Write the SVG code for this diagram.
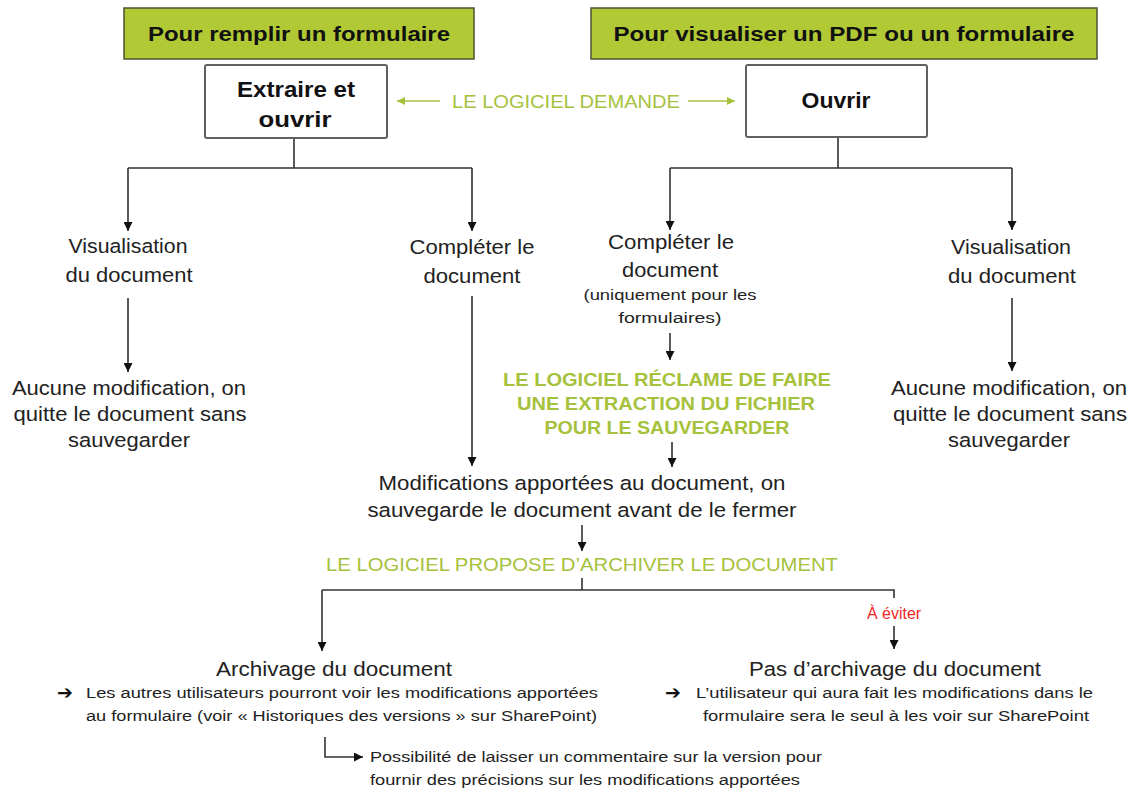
<svg xmlns="http://www.w3.org/2000/svg" width="1137" height="789" viewBox="0 0 1137 789">
<style>
.hdr{fill:#b2c936;stroke:#4f5030;stroke-width:1.5}
.box{fill:#fff;stroke:#606060;stroke-width:2}
.hb{font-family:"Liberation Sans",Arial,sans-serif;font-weight:bold;font-size:20px;fill:#111;text-anchor:middle}
.bb{font-family:"Liberation Sans",Arial,sans-serif;font-weight:bold;font-size:22px;fill:#111;text-anchor:middle}
.t{font-family:"Liberation Sans",Arial,sans-serif;font-size:20.5px;fill:#222;text-anchor:middle}
.s{font-family:"Liberation Sans",Arial,sans-serif;font-size:15.5px;fill:#222}
.ar{font-family:"DejaVu Sans",sans-serif;font-size:19px;font-weight:bold;fill:#111}
.sc{font-family:"Liberation Sans",Arial,sans-serif;font-size:14px;fill:#222;text-anchor:middle}
.g{font-family:"Liberation Sans",Arial,sans-serif;font-size:18px;fill:#a6c13c;text-anchor:middle}
.gb{font-family:"Liberation Sans",Arial,sans-serif;font-size:18px;font-weight:bold;fill:#a6c13c;text-anchor:middle}
.red{font-family:"Liberation Sans",Arial,sans-serif;font-size:16px;fill:#f02828;text-anchor:middle}
.ln{fill:none;stroke:#333;stroke-width:1.6}
.gl{fill:none;stroke:#a6c13c;stroke-width:1.6}
</style>
<defs>
<marker id="ah" viewBox="0 0 10 10" refX="10" refY="5" markerWidth="10" markerHeight="9" orient="auto" markerUnits="userSpaceOnUse"><path d="M0,0 L10,5 L0,10 z" fill="#111"/></marker>
<marker id="ga" viewBox="0 0 10 10" refX="10" refY="5" markerWidth="10" markerHeight="8" orient="auto" markerUnits="userSpaceOnUse"><path d="M0,0 L10,5 L0,10 z" fill="#a6c13c"/></marker>
</defs>
<rect width="1137" height="789" fill="#fff"/>

<g id="connectors">
<path class="gl" d="M440,101 H397" marker-end="url(#ga)"/>
<path class="gl" d="M688,101 H735" marker-end="url(#ga)"/>
<path class="ln" d="M294,138 V168 M128,168 H472"/>
<path class="ln" d="M128,168 V231" marker-end="url(#ah)"/>
<path class="ln" d="M472,168 V231" marker-end="url(#ah)"/>
<path class="ln" d="M838,137 V168 M670,168 H1012"/>
<path class="ln" d="M670,168 V230" marker-end="url(#ah)"/>
<path class="ln" d="M1012,168 V230" marker-end="url(#ah)"/>
<path class="ln" d="M128,298 V372" marker-end="url(#ah)"/>
<path class="ln" d="M1012,298 V371" marker-end="url(#ah)"/>
<path class="ln" d="M472,296 V466" marker-end="url(#ah)"/>
<path class="ln" d="M670,333 V360" marker-end="url(#ah)"/>
<path class="ln" d="M672,442 V467" marker-end="url(#ah)"/>
<path class="ln" d="M582,525 V551" marker-end="url(#ah)"/>
<path class="ln" d="M582,578 V590 M322,590 H894 V598"/>
<path class="ln" d="M322,590 V651" marker-end="url(#ah)"/>
<path class="ln" d="M894,626 V649" marker-end="url(#ah)"/>
<path class="ln" d="M325,737 V757 H363" marker-end="url(#ah)"/>
</g>

<g id="header-remplir">
<rect class="hdr" x="124" y="8" width="350" height="51"/>
<text class="hb" x="299" y="41" textLength="302" lengthAdjust="spacingAndGlyphs">Pour remplir un formulaire</text>
</g>
<g id="header-visualiser">
<rect class="hdr" x="591" y="8" width="506" height="51"/>
<text class="hb" x="844" y="41" textLength="461" lengthAdjust="spacingAndGlyphs">Pour visualiser un PDF ou un formulaire</text>
</g>
<g id="box-extraire">
<rect class="box" x="205" y="65" width="182" height="73" rx="2"/>
<text class="bb" x="296" y="97" textLength="118" lengthAdjust="spacingAndGlyphs">Extraire et</text>
<text class="bb" x="295" y="127" textLength="73" lengthAdjust="spacingAndGlyphs">ouvrir</text>
</g>
<g id="box-ouvrir">
<rect class="box" x="746" y="65" width="181" height="72" rx="2"/>
<text class="bb" x="836" y="108" textLength="69" lengthAdjust="spacingAndGlyphs">Ouvrir</text>
</g>
<g id="label-demande">
<text class="g" x="566" y="108" textLength="228" lengthAdjust="spacingAndGlyphs">LE LOGICIEL DEMANDE</text>
</g>

<g id="visu-left">
<text class="t" x="128" y="253" textLength="119" lengthAdjust="spacingAndGlyphs">Visualisation</text>
<text class="t" x="129" y="282" textLength="127" lengthAdjust="spacingAndGlyphs">du document</text>
</g>
<g id="aucune-left">
<text class="t" x="129" y="395" textLength="234" lengthAdjust="spacingAndGlyphs">Aucune modification, on</text>
<text class="t" x="130" y="421" textLength="233" lengthAdjust="spacingAndGlyphs">quitte le document sans</text>
<text class="t" x="129" y="447" textLength="122" lengthAdjust="spacingAndGlyphs">sauvegarder</text>
</g>
<g id="completer-left">
<text class="t" x="472" y="254" textLength="125" lengthAdjust="spacingAndGlyphs">Compléter le</text>
<text class="t" x="472" y="283" textLength="97" lengthAdjust="spacingAndGlyphs">document</text>
</g>
<g id="completer-right">
<text class="t" x="671" y="249" textLength="126" lengthAdjust="spacingAndGlyphs">Compléter le</text>
<text class="t" x="670" y="277" textLength="96" lengthAdjust="spacingAndGlyphs">document</text>
<text class="sc" x="670" y="300" textLength="173" lengthAdjust="spacingAndGlyphs">(uniquement pour les</text>
<text class="sc" x="670" y="323" textLength="103" lengthAdjust="spacingAndGlyphs">formulaires)</text>
</g>
<g id="label-reclame">
<text class="gb" x="667" y="386" textLength="328" lengthAdjust="spacingAndGlyphs">LE LOGICIEL RÉCLAME DE FAIRE</text>
<text class="gb" x="666" y="410" textLength="298" lengthAdjust="spacingAndGlyphs">UNE EXTRACTION DU FICHIER</text>
<text class="gb" x="667" y="434" textLength="245" lengthAdjust="spacingAndGlyphs">POUR LE SAUVEGARDER</text>
</g>
<g id="visu-right">
<text class="t" x="1011" y="254" textLength="120" lengthAdjust="spacingAndGlyphs">Visualisation</text>
<text class="t" x="1012" y="283" textLength="128" lengthAdjust="spacingAndGlyphs">du document</text>
</g>
<g id="aucune-right">
<text class="t" x="1009" y="395" textLength="236" lengthAdjust="spacingAndGlyphs">Aucune modification, on</text>
<text class="t" x="1010" y="421" textLength="234" lengthAdjust="spacingAndGlyphs">quitte le document sans</text>
<text class="t" x="1009" y="447" textLength="122" lengthAdjust="spacingAndGlyphs">sauvegarder</text>
</g>
<g id="modifications">
<text class="t" x="582" y="490" textLength="407" lengthAdjust="spacingAndGlyphs">Modifications apportées au document, on</text>
<text class="t" x="582" y="517" textLength="429" lengthAdjust="spacingAndGlyphs">sauvegarde le document avant de le fermer</text>
</g>
<g id="label-propose">
<text class="g" x="582" y="571" textLength="512" lengthAdjust="spacingAndGlyphs">LE LOGICIEL PROPOSE D’ARCHIVER LE DOCUMENT</text>
</g>
<g id="label-eviter">
<text class="red" x="894" y="619">À éviter</text>
</g>
<g id="archivage">
<text class="t" x="334" y="676" textLength="236" lengthAdjust="spacingAndGlyphs">Archivage du document</text>
<text class="ar" x="57" y="699">➔</text>
<text class="s" x="86" y="698" textLength="512" lengthAdjust="spacingAndGlyphs">Les autres utilisateurs pourront voir les modifications apportées</text>
<text class="s" x="86" y="721" textLength="511" lengthAdjust="spacingAndGlyphs">au formulaire (voir « Historiques des versions » sur SharePoint)</text>
</g>
<g id="commentaire">
<text class="s" x="370" y="762" textLength="452" lengthAdjust="spacingAndGlyphs">Possibilité de laisser un commentaire sur la version pour</text>
<text class="s" x="370" y="785" textLength="430" lengthAdjust="spacingAndGlyphs">fournir des précisions sur les modifications apportées</text>
</g>
<g id="pas-archivage">
<text class="t" x="895" y="676" textLength="292" lengthAdjust="spacingAndGlyphs">Pas d’archivage du document</text>
<text class="ar" x="665" y="699">➔</text>
<text class="s" x="696" y="698" textLength="397" lengthAdjust="spacingAndGlyphs">L’utilisateur qui aura fait les modifications dans le</text>
<text class="s" x="896" y="721" text-anchor="middle" textLength="386" lengthAdjust="spacingAndGlyphs">formulaire sera le seul à les voir sur SharePoint</text>
</g>
</svg>
